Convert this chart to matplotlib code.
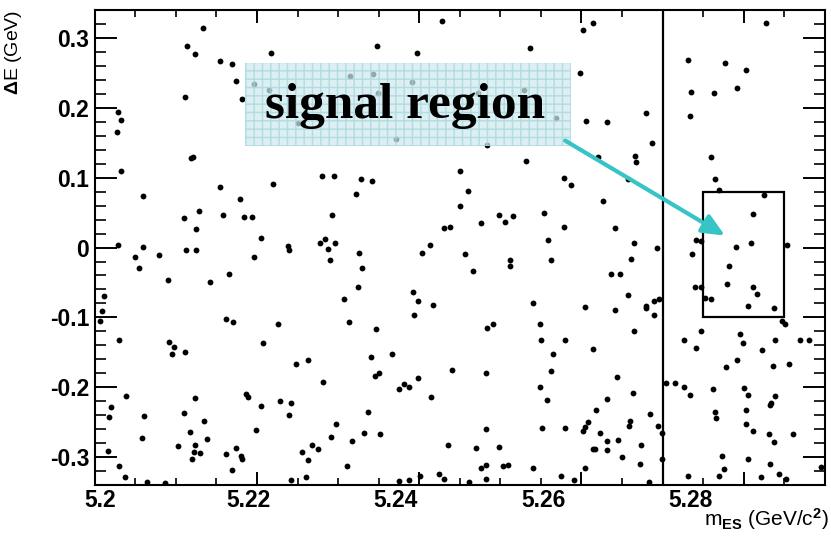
import matplotlib.pyplot as plt
from matplotlib.patches import Rectangle
from matplotlib.ticker import MultipleLocator

plt.rcParams['font.family'] = ['Liberation Sans', 'DejaVu Sans']
plt.rcParams['font.weight'] = 'bold'
plt.rcParams['mathtext.fontset'] = 'custom'
plt.rcParams['mathtext.rm'] = 'Liberation Sans:bold'
plt.rcParams['mathtext.bf'] = 'Liberation Sans:bold'
plt.rcParams['mathtext.default'] = 'bf'

# candidate events: m_ES [GeV/c^2], Delta E [GeV]
m_es = [
    5.2134, 5.2114, 5.2123, 5.2155, 5.2169, 5.2174, 5.2196, 5.2111, 5.2182, 5.2029,
    5.2032, 5.2027, 5.2121, 5.2119,
    5.2428, 5.2217, 5.2348, 5.2397, 5.2315, 5.2343, 5.2391, 5.2215, 5.2349, 5.2392,
    5.2250, 5.2371,
    5.2602, 5.2614, 5.2536, 5.2598, 5.2472, 5.2529, 5.2569, 5.2606, 5.2631, 5.2483,
    5.2532, 5.2621, 5.2666, 5.2667,
    5.2827, 5.2731, 5.2777, 5.2803, 5.2792, 5.2735, 5.2764, 5.2679, 5.2734, 5.2687,
    5.2760,
    5.2032, 5.2060, 5.2155, 5.2179, 5.2128, 5.2110, 5.2158, 5.2184, 5.2194, 5.2125,
    5.2205, 5.2029, 5.2060, 5.2112, 5.2125, 5.2050, 5.2079, 5.2196, 5.2055, 5.2165,
    5.2090, 5.2142, 5.2011, 5.2009, 5.2007, 5.2162, 5.2170,
    5.2220, 5.2280, 5.2295, 5.2328, 5.2342, 5.2322, 5.2292, 5.2431, 5.2438, 5.2284,
    5.2278, 5.2296, 5.2238, 5.2239, 5.2288, 5.2413, 5.2404, 5.2326, 5.2290, 5.2330,
    5.2325, 5.2307, 5.2392, 5.2399, 5.2417, 5.2393, 5.2313, 5.2226,
    5.2450, 5.2460, 5.2450, 5.2579, 5.2587, 5.2627, 5.2658, 5.2499, 5.2516, 5.2506,
    5.2476, 5.2554, 5.2579, 5.2642, 5.2559, 5.2665, 5.2456, 5.2512, 5.2512, 5.2563,
    5.2661, 5.2466, 5.2637, 5.2648, 5.2658, 5.2540, 5.2605, 5.2641, 5.2491, 5.2549,
    5.2765, 5.2770, 5.2825, 5.2812, 5.2761, 5.2741, 5.2748, 5.2809, 5.2790, 5.2853,
    5.2693, 5.2736, 5.2782, 5.2779, 5.2740, 5.2748, 5.2812, 5.2817, 5.2752, 5.2760,
    5.2696, 5.2690, 5.2680, 5.2680, 5.2805, 5.2838, 5.2689, 5.2847, 5.2851,
    5.2030, 5.2091, 5.2098, 5.2095, 5.2111, 5.2208, 5.2039, 5.2020, 5.2018, 5.2061,
    5.2058, 5.2016, 5.2030, 5.2037, 5.2065, 5.2087, 5.2123, 5.2110, 5.2135, 5.2118,
    5.2138, 5.2103, 5.2123, 5.2122, 5.2130, 5.2120, 5.2186, 5.2189, 5.2205, 5.2199,
    5.2162, 5.2174, 5.2180, 5.2182, 5.2169,
    5.2347, 5.2248, 5.2263, 5.2341, 5.2366, 5.2282, 5.2346, 5.2351, 5.2399, 5.2375,
    5.2381, 5.2388, 5.2441, 5.2414, 5.2228, 5.2242, 5.2240, 5.2337, 5.2298, 5.2332,
    5.2352, 5.2291, 5.2317, 5.2268, 5.2275, 5.2256, 5.2263, 5.2435, 5.2311, 5.2261,
    5.2242, 5.2375, 5.2388, 5.2401, 5.2425, 5.2431,
    5.2484, 5.2665, 5.2550, 5.2580, 5.2614, 5.2565, 5.2482, 5.2563, 5.2644, 5.2549,
    5.2664, 5.2558, 5.2631, 5.2618, 5.2482, 5.2552, 5.2580, 5.2602, 5.2605, 5.2608,
    5.2623, 5.2660, 5.2659, 5.2632, 5.2645, 5.2632, 5.2614, 5.2617, 5.2650, 5.2673,
    5.2672, 5.2470, 5.2499, 5.2476, 5.2482, 5.2503, 5.2509, 5.2540, 5.2604, 5.2482,
    5.2461, 5.2575, 5.2591,
    5.2748, 5.2795, 5.2799, 5.2726, 5.2741, 5.2839, 5.2869, 5.2880, 5.2823, 5.2792,
    5.2778, 5.2836, 5.2856, 5.2704, 5.2715, 5.2727, 5.2734, 5.2762, 5.2801, 5.2805,
    5.2839, 5.2834, 5.2832, 5.2765, 5.2766, 5.2803, 5.2803, 5.2811, 5.2831, 5.2861,
    5.2838, 5.2685, 5.2695, 5.2699, 5.2699, 5.2773, 5.2805, 5.2833, 5.2776, 5.2732,
    5.2769, 5.2821, 5.2843, 5.2895, 5.2683, 5.2852,
]
delta_e = [
    0.314, 0.289, 0.277, 0.267, 0.263, 0.239, 0.234, 0.215, 0.212, 0.194,
    0.183, 0.166, 0.130, 0.128,
    0.324, 0.278, 0.289, 0.278, 0.245, 0.249, 0.237, 0.225, 0.221, 0.197,
    0.178, 0.156,
    0.312, 0.321, 0.286, 0.250, 0.221, 0.226, 0.186, 0.181, 0.180, 0.147,
    0.124, 0.129, 0.131, 0.123,
    0.321, 0.268, 0.264, 0.254, 0.229, 0.222, 0.221, 0.193, 0.188, 0.150,
    0.129,
    0.109, 0.074, 0.087, 0.070, 0.053, 0.042, 0.046, 0.043, 0.044, 0.027,
    0.014, 0.003, 0.001, -0.003, -0.004, -0.014, -0.011, -0.014, -0.029, -0.038,
    -0.046, -0.049, -0.069, -0.091, -0.105, -0.102, -0.107,
    0.091, 0.103, 0.103, 0.098, 0.095, 0.076, 0.047, 0.028, 0.030, 0.012,
    0.007, 0.007, 0.002, -0.004, -0.002, 0.003, -0.008, -0.008, -0.018, -0.030,
    -0.056, -0.074, -0.063, -0.077, -0.082, -0.097, -0.107, -0.110,
    0.109, 0.081, 0.059, 0.099, 0.089, 0.066, 0.098, 0.046, 0.045, 0.036,
    0.035, 0.049, 0.029, 0.028, 0.011, 0.006, -0.009, -0.018, -0.026, -0.018,
    -0.017, -0.034, -0.038, -0.038, -0.068, -0.080, -0.085, -0.089, -0.109, -0.110,
    0.098, 0.083, 0.075, 0.048, 0.033, 0.011, 0.009, 0.007, 0.001, 0.004,
    0.000, -0.009, -0.027, -0.052, -0.057, -0.056, -0.056, -0.067, -0.072, -0.073,
    -0.074, -0.077, -0.083, -0.087, -0.083, -0.087, -0.097, -0.105, -0.109,
    -0.132, -0.135, -0.142, -0.153, -0.149, -0.137, -0.213, -0.228, -0.243, -0.241,
    -0.272, -0.291, -0.313, -0.329, -0.336, -0.337, -0.215, -0.237, -0.249, -0.264,
    -0.274, -0.284, -0.282, -0.293, -0.294, -0.302, -0.209, -0.214, -0.227, -0.261,
    -0.296, -0.287, -0.299, -0.302, -0.319,
    -0.117, -0.166, -0.161, -0.156, -0.153, -0.192, -0.184, -0.180, -0.187, -0.203,
    -0.196, -0.199, -0.175, -0.214, -0.219, -0.222, -0.239, -0.235, -0.252, -0.265,
    -0.267, -0.271, -0.277, -0.282, -0.289, -0.292, -0.304, -0.282, -0.312, -0.328,
    -0.333, -0.334, -0.333, -0.327, -0.324, -0.332,
    -0.115, -0.119, -0.132, -0.133, -0.145, -0.152, -0.180, -0.177, -0.186, -0.199,
    -0.208, -0.218, -0.217, -0.232, -0.260, -0.258, -0.258, -0.262, -0.257, -0.250,
    -0.265, -0.248, -0.256, -0.277, -0.275, -0.290, -0.289, -0.289, -0.300, -0.282,
    -0.310, -0.287, -0.285, -0.315, -0.311, -0.312, -0.311, -0.315, -0.316, -0.331,
    -0.335, -0.327, -0.333,
    -0.119, -0.124, -0.137, -0.133, -0.144, -0.132, -0.132, -0.132, -0.147, -0.161,
    -0.171, -0.169, -0.167, -0.194, -0.194, -0.200, -0.211, -0.203, -0.201, -0.211,
    -0.213, -0.222, -0.225, -0.235, -0.244, -0.233, -0.252, -0.263, -0.267, -0.267,
    -0.279, -0.238, -0.255, -0.266, -0.303, -0.299, -0.302, -0.310, -0.317, -0.327,
    -0.327, -0.328, -0.324, -0.314, -0.336, -0.332,
]

x_ticks = [5.20, 5.22, 5.24, 5.26, 5.28]
x_tick_labels = ['5.2', '5.22', '5.24', '5.26', '5.28']
y_ticks = [-0.3, -0.2, -0.1, 0.0, 0.1, 0.2, 0.3]
y_tick_labels = ['-0.3', '-0.2', '-0.1', '0', '0.1', '0.2', '0.3']

mes_cut = 5.27
signal_mes = (5.275, 5.285)
signal_de = (-0.10, 0.08)

fig = plt.figure(figsize=(8.31, 5.55), dpi=100)
ax = fig.add_axes([0.114, 0.126, 0.8785, 0.856])

ax.plot(m_es, delta_e, 'o', color='black', ms=4.2, mec='none', zorder=2)

ax.set_xlim(5.20, 5.29)
ax.set_ylim(-0.34, 0.34)

# cut line and signal box
ax.axvline(mes_cut, color='black', lw=1.6, zorder=3)
ax.add_patch(Rectangle((signal_mes[0], signal_de[0]),
                       signal_mes[1] - signal_mes[0], signal_de[1] - signal_de[0],
                       fill=False, ec='black', lw=1.6, zorder=3))

# label box with a light grid
ax.add_patch(Rectangle((5.2185, 0.146), 0.0402, 0.118, facecolor='#cfeaee',
                       edgecolor='#a3d5db', linewidth=0, hatch='++',
                       alpha=0.72, zorder=4))
ax.text(5.2383, 0.203, 'signal region', family='Liberation Serif',
        weight='bold', size=37, ha='center', va='center', zorder=5)
ax.annotate('', xy=(5.2777, 0.017), xytext=(5.2580, 0.153),
            arrowprops=dict(arrowstyle='-|>,head_length=0.9,head_width=0.4',
                            color='#36c4c6', lw=3, shrinkA=0, shrinkB=0,
                            mutation_scale=15),
            zorder=6)

# ROOT style axes
for s in ax.spines.values():
    s.set_linewidth(1.5)
ax.set_yticks(y_ticks, y_tick_labels)
ax.yaxis.set_minor_locator(MultipleLocator(0.02))
ax.set_xticks(x_ticks, [''] * len(x_ticks))
ax.xaxis.set_minor_locator(MultipleLocator(0.005))
ax.tick_params(axis='y', which='major', direction='in', length=15.8, width=1.4,
               right=True, pad=4, labelsize=16.5)
ax.tick_params(axis='y', which='minor', direction='in', length=7.9, width=1.2,
               right=True)
ax.tick_params(axis='x', which='major', direction='in', length=9.4, width=1.4,
               top=True)
ax.tick_params(axis='x', which='minor', direction='in', length=4.7, width=1.2,
               top=True)

# tick labels sit slightly left of their ticks
for v, lab in zip(x_ticks, x_tick_labels):
    ax.text(5.2007 + 0.91 * (v - 5.2), -0.008, lab, transform=ax.get_xaxis_transform(),
            ha='center', va='top', size=16.5, weight='bold')

ax.set_ylabel(r'$\Delta$E (GeV)', loc='top', size=14)
ax.yaxis.set_label_coords(-0.097, 1.0)
ax.set_xlabel(r'm$_{ES}$ (GeV/c$^{2}$)', loc='right', size=15)
ax.xaxis.set_label_coords(1.005, -0.045)

fig.savefig('out.png', dpi=100)
